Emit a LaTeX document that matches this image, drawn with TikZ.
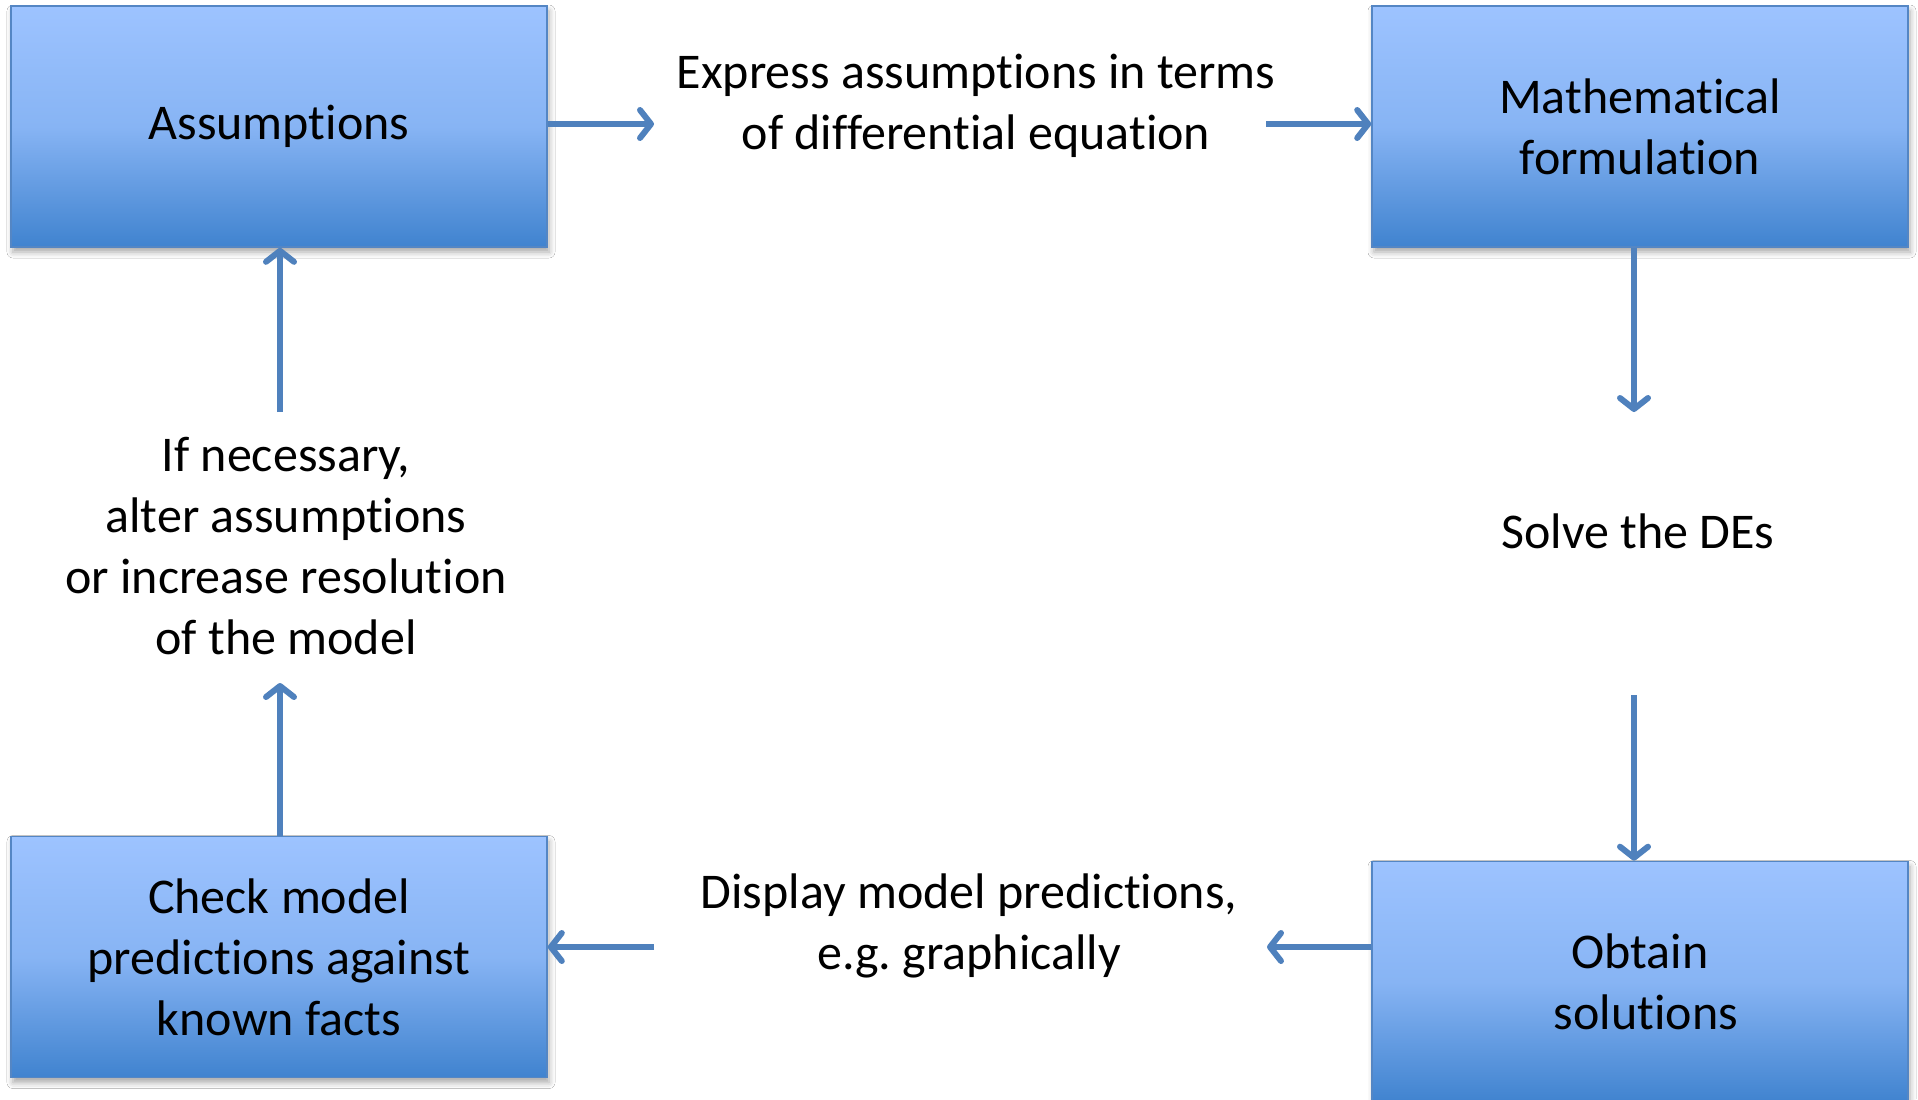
\documentclass[tikz,border=0pt]{standalone}
\usepackage{fontspec}
\setmainfont{Carlito}[Ligatures=NoCommon]
\usetikzlibrary{arrows.meta,shadows.blur}
\definecolor{boxtop}{RGB}{157,195,255}
\definecolor{boxmid}{RGB}{135,180,244}
\definecolor{boxbot}{RGB}{64,131,207}
\definecolor{boxline}{RGB}{84,134,196}
\definecolor{arrowc}{RGB}{79,129,189}
\tikzset{
  stagebox/.style={draw=boxline, line width=0.8pt, top color=boxtop, bottom color=boxbot, middle color=boxmid,
    minimum width=268pt, minimum height=120.5pt, align=center, inner sep=0pt,
    blur shadow={shadow xshift=1pt, shadow yshift=-2.5pt, shadow blur radius=3pt, shadow opacity=35},
    font=\fontsize{25pt}{30.5pt}\selectfont},
  lbl/.style={align=center, inner sep=0pt, font=\fontsize{25pt}{30.5pt}\selectfont},
  conn/.style={draw=arrowc, line width=3pt, -{Straight Barb[length=5.5pt,width=14pt,round]}}
}
\begin{document}
\frenchspacing
\begin{tikzpicture}[x=0.5pt,y=-0.5pt]
\useasboundingbox (0,0) rectangle (1918,1099);
\clip (0,0) rectangle (1918,1099);
\fill[white] (0,0) rectangle (1918,1099);
% boxes
\node[stagebox] (assump) at (279,126.5) {Assumptions};
\node[stagebox] (math) at (1640,126.5) {Mathematical\\formulation};
\node[stagebox] (check) at (279,957) {Check model\\predictions against\\known facts};
\node[stagebox] (obtain) at (1640,982) {Obtain\\\hspace*{6pt}solutions};
% labels
\node[lbl] (expr) at (976,106) {Express assumptions in terms\\of differential equation};
\node[lbl] (solve) at (1638,531) {Solve the DEs};
\node[lbl] (ifnec) at (286,546) {If necessary,\\alter assumptions\\or increase resolution\\of the model};
\node[lbl] (disp) at (969,926) {Display model predictions,\\e.g. graphically};
% connector ends
\coordinate (a1) at (654,124);
\coordinate (a2) at (1266,124);
\coordinate (b1) at (1634,412);
\coordinate (b2) at (1634,695);
\coordinate (c1) at (1267,947);
\coordinate (c2) at (654,947);
\coordinate (d1) at (280,683);
\coordinate (d2) at (280,412);
% connectors
\draw[conn] (assump.east |- a1) -- (a1);
\draw[conn] (a2) -- (math.west |- a2);
\draw[conn] (math.south -| b1) -- (b1);
\draw[conn] (b2) -- (obtain.north -| b2);
\draw[conn] (obtain.west |- c1) -- (c1);
\draw[conn] (c2) -- (check.east |- c2);
\draw[conn] (check.north -| d1) -- (d1);
\draw[conn] (d2) -- (assump.south -| d2);
\end{tikzpicture}
\end{document}
